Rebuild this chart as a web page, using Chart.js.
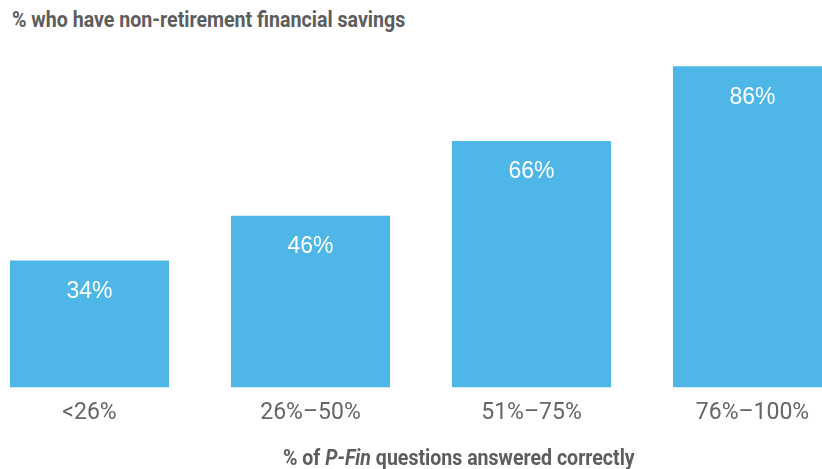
<!DOCTYPE html>
<html>
<head>
<meta charset="utf-8">
<script src="https://cdn.jsdelivr.net/npm/chart.js@4"></script>
<style>
  html, body { margin: 0; padding: 0; background: #fff; overflow: hidden; }
  body { width: 822px; height: 469px; position: relative; }
  #wrap { position: absolute; left: -21px; top: 0; width: 884px; height: 469px; }
  .lbl { position: absolute; font-family: Roboto, "Liberation Sans", Arial, sans-serif; font-weight: bold; font-size: 22px; color: #5d5d5d; white-space: nowrap; line-height: 24px; transform-origin: 0 50%; }
  #title { left: 12px; top: 8px; }
  #xtitle { left: 283px; top: 446px; }
</style>
</head>
<body>
<div id="title" class="lbl">% who have non-retirement financial savings</div>
<div id="wrap"><canvas id="savingsChart"></canvas></div>
<div id="xtitle" class="lbl">% of <i>P-Fin</i> questions answered correctly</div>
<script>
const categories = ['<26%', '26%–50%', '51%–75%', '76%–100%'];
const savingsPct = [34, 46, 66, 86];

const barColor = '#4fb7e7';

// squeeze the bold headings to the condensed width of the original
function fitWidth(id, w) {
  const el = document.getElementById(id);
  el.style.transform = 'scaleX(' + (w / el.offsetWidth) + ')';
}
fitWidth('title', 393);
fitWidth('xtitle', 352);

// white value labels inside each bar, near the top
const valueLabels = {
  id: 'valueLabels',
  afterDatasetsDraw(chart) {
    const ctx = chart.ctx;
    const meta = chart.getDatasetMeta(0);
    ctx.save();
    ctx.fillStyle = '#ffffff';
    ctx.font = '23px "Liberation Sans", Arial, sans-serif';
    ctx.textAlign = 'center';
    ctx.textBaseline = 'middle';
    meta.data.forEach((bar, i) => {
      ctx.fillText(savingsPct[i] + '%', bar.x, bar.y + 31);
    });
    ctx.restore();
  }
};

const ctx = document.getElementById('savingsChart').getContext('2d');
new Chart(ctx, {
  type: 'bar',
  data: {
    labels: categories,
    datasets: [{
      data: savingsPct,
      backgroundColor: barColor,
      borderWidth: 0,
      barPercentage: 0.72,
      categoryPercentage: 1
    }]
  },
  options: {
    responsive: true,
    maintainAspectRatio: false,
    animation: false,
    layout: { padding: { top: 14, bottom: 30, left: 0, right: 0 } },
    plugins: {
      legend: { display: false },
      tooltip: { enabled: false }
    },
    scales: {
      x: {
        grid: { display: false, drawTicks: false },
        border: { display: false },
        ticks: {
          padding: 12,
          color: '#666666',
          font: { family: 'Roboto, "Liberation Sans", Arial, sans-serif', size: 23 }
        }
      },
      y: {
        display: false,
        min: 0,
        max: 100
      }
    }
  },
  plugins: [valueLabels]
});
</script>
</body>
</html>
